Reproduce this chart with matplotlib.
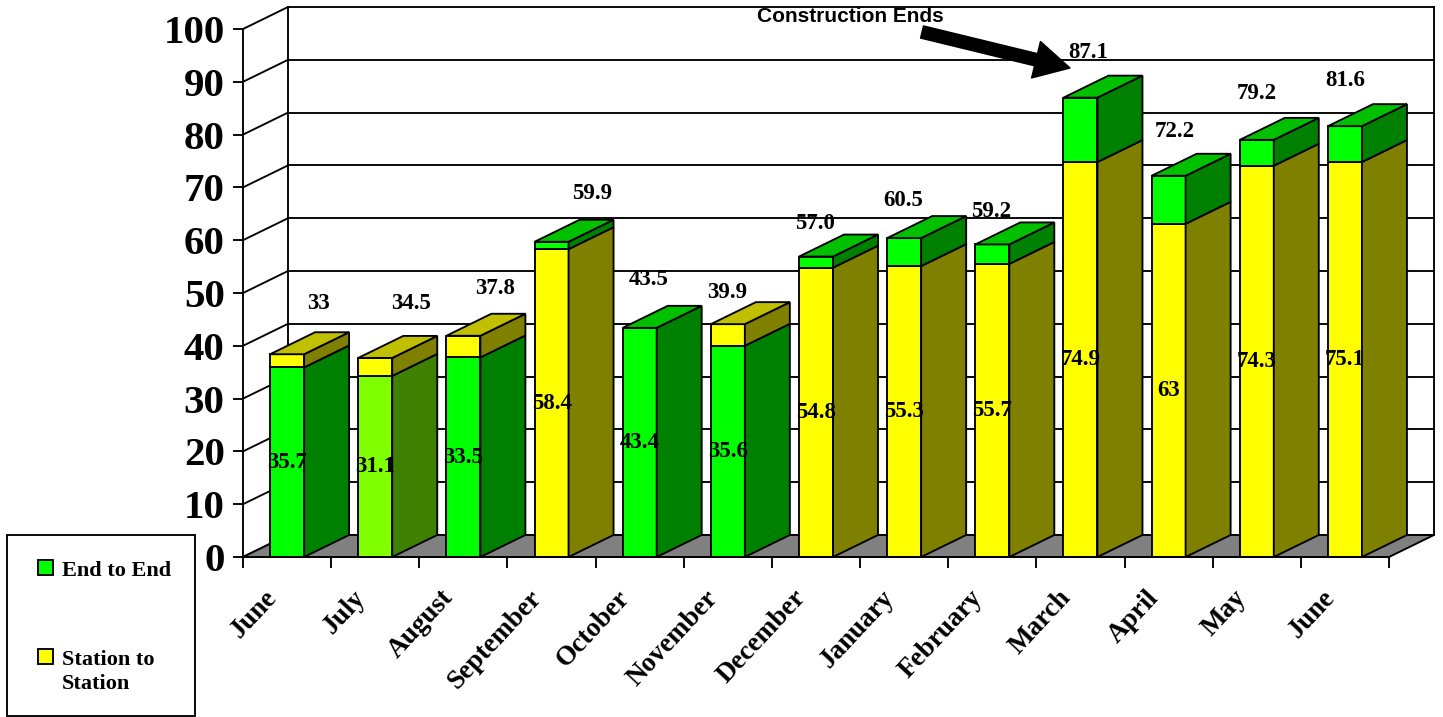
import matplotlib as mpl
mpl.use('Agg')
import matplotlib.pyplot as plt
from matplotlib.patches import Polygon, Rectangle

#
#--- chart data
#
months      = ['June', 'July', 'August', 'September', 'October', 'November',
               'December', 'January', 'February', 'March', 'April', 'May', 'June']
lower_vals  = [35.9, 34.3, 37.8, 58.3, 43.4, 40.0, 54.8, 55.1, 55.5, 74.8, 63.1, 74.1, 74.8]
total_vals  = [38.4, 37.7, 41.9, 59.7, 43.4, 44.1, 56.9, 60.4, 59.2, 87.0, 72.2, 79.0, 81.6]
lower_kind  = ['end', 'end2', 'end', 'station', 'end', 'end', 'station',
               'station', 'station', 'station', 'station', 'station', 'station']
upper_kind  = ['station', 'station', 'station', 'end', 'end', 'station', 'end',
               'end', 'end', 'end', 'end', 'end', 'end']
inner_text  = ['35.7', '31.1', '33.5', '58.4', '43.4', '35.6', '54.8',
               '55.3', '55.7', '74.9', '63', '74.3', '75.1']
top_text    = ['33', '34.5', '37.8', '59.9', '43.5', '39.9', '57.0',
               '60.5', '59.2', '87.1', '72.2', '79.2', '81.6']
legend_txt  = ['End to End', 'Station to\nStation']
note_text   = 'Construction Ends'

#
#--- layout / style
#
W, H    = 1443, 717
PXX     = 88.15          # px per category
PXY     = 5.28           # px per unit
DX      = 45 / PXX       # depth offset in data units
DY      = 22 / PXY
BW      = 34 / PXX       # bar front width
top_nudge = [(31, 9.7), (36, 10.4), (32, 8.9), (41, 9.2), (9, 9.1), (-1, 5.9), (-1, 6.2),
             (-1, 7.2), (-1, 6.3), (8, 8.6), (6, 8.3), (0, 8.7), (0, 8.6)]

colors = {
    'end':     ('#00ff00', '#008000', '#00c000'),
    'end2':    ('#80ff00', '#408000', '#60c000'),
    'station': ('#ffff00', '#808000', '#c0c000'),
}
serif = 'Liberation Serif'
LW    = 1.35

fig = plt.figure(figsize=(W / 100, H / 100), dpi=100)
ax  = fig.add_axes([243 / W, (H - 557) / H, (1389 - 243) / W, (557 - 29) / H])
ax.set_xlim(0, 13)
ax.set_ylim(0, 100)
for s in ['top', 'right']:
    ax.spines[s].set_visible(False)
for s in ['left', 'bottom']:
    ax.spines[s].set_linewidth(LW)
    ax.spines[s].set_zorder(6)

ax.set_yticks(range(0, 101, 10))
ax.set_yticklabels([str(v) for v in range(0, 101, 10)],
                   fontfamily=serif, fontweight='bold', fontsize=29.5)
ax.set_xticks(range(0, 14))
ax.set_xticklabels([])
ax.tick_params(axis='y', length=7.2, width=LW, pad=6)
ax.tick_params(axis='x', length=8, width=LW)
ax.set_facecolor('none')

#
#--- back wall, side wall and floor
#
for v in range(0, 101, 10):
    ax.plot([DX, 13 + DX], [v + DY, v + DY], color='black', lw=LW, zorder=1, clip_on=False)
    ax.plot([0, DX], [v, v + DY], color='black', lw=LW, zorder=1, clip_on=False)
ax.plot([DX, DX], [DY, 100 + DY], color='black', lw=LW, zorder=1, clip_on=False)
ax.plot([13 + DX, 13 + DX], [DY, 100 + DY], color='black', lw=LW, zorder=1, clip_on=False)

floor = Polygon([(0, 0), (13, 0), (13 + DX, DY), (DX, DY)], closed=True,
                facecolor='#808080', edgecolor='black', lw=LW, zorder=2, clip_on=False)
ax.add_patch(floor)

#
#--- bars
#
def draw_segment(x0, y0, y1, kind, top):
    front, side, topc = colors[kind]
    x1 = x0 + BW
    ax.add_patch(Rectangle((x0, y0), BW, y1 - y0, facecolor=front, edgecolor='black',
                           lw=LW, zorder=4, clip_on=False))
    ax.add_patch(Polygon([(x1, y0), (x1 + DX, y0 + DY), (x1 + DX, y1 + DY), (x1, y1)],
                         closed=True, facecolor=side, edgecolor='black', lw=LW,
                         zorder=4, clip_on=False))
    if top:
        ax.add_patch(Polygon([(x0, y1), (x1, y1), (x1 + DX, y1 + DY), (x0 + DX, y1 + DY)],
                             closed=True, facecolor=topc, edgecolor='black', lw=LW,
                             zorder=4, clip_on=False))

for i in range(len(months)):
    c  = i + 0.5
    x0 = c - BW / 2
    lo = lower_vals[i]
    tot = total_vals[i]
    has_upper = tot - lo > 0.05
    draw_segment(x0, 0, lo, lower_kind[i], not has_upper)
    if has_upper:
        draw_segment(x0, lo, tot, upper_kind[i], True)

    ax.text(c, lo / 2, inner_text[i], ha='center', va='center', fontfamily=serif,
            fontweight='bold', fontsize=16.5, zorder=7, clip_on=False)
    ndx, ndy = top_nudge[i]
    ax.text(c + ndx / PXX, tot + ndy, top_text[i], ha='center', va='center',
            fontfamily=serif, fontweight='bold', fontsize=16.5, zorder=7, clip_on=False)
    ax.text(c - 0.16, -7.0, months[i], rotation=47, rotation_mode='anchor',
            ha='right', va='center', fontfamily=serif, fontweight='bold',
            fontsize=19.5, zorder=7, clip_on=False)

#
#--- annotation arrow
#
ax.text((850 - 243) / PXX, (557 - 17) / PXY, note_text, ha='center', va='center',
        fontfamily='Liberation Sans', fontweight='bold', fontsize=15, zorder=8, clip_on=False)
ax.annotate('', xy=((1070 - 243) / PXX, (557 - 68) / PXY),
            xytext=((922 - 243) / PXX, (557 - 32) / PXY),
            arrowprops=dict(arrowstyle='simple,head_length=0.84,head_width=0.9,tail_width=0.3',
                            fc='black', ec='black', mutation_scale=30, shrinkA=0, shrinkB=0),
            annotation_clip=False, zorder=8)

#
#--- legend box
#
def fx(px):
    return px / W

def fy(py):
    return 1 - py / H

fig.add_artist(Rectangle((fx(7), fy(716)), fx(195) - fx(7), fy(535) - fy(716),
                         transform=fig.transFigure, facecolor='white', edgecolor='black', lw=LW))
for (sq_y, txt_y, kind, label) in [(568, 571, 'end', legend_txt[0]),
                                   (657, 672, 'station', legend_txt[1])]:
    fig.add_artist(Rectangle((fx(38), fy(sq_y + 7)), fx(15), fy(0) - fy(15),
                             transform=fig.transFigure, facecolor=colors[kind][0],
                             edgecolor='black', lw=LW))
    fig.text(fx(62), fy(txt_y), label, ha='left', va='center', fontfamily=serif,
             fontweight='bold', fontsize=16, linespacing=1.3)

fig.savefig('out.png', dpi=100)
plt.close('all')
